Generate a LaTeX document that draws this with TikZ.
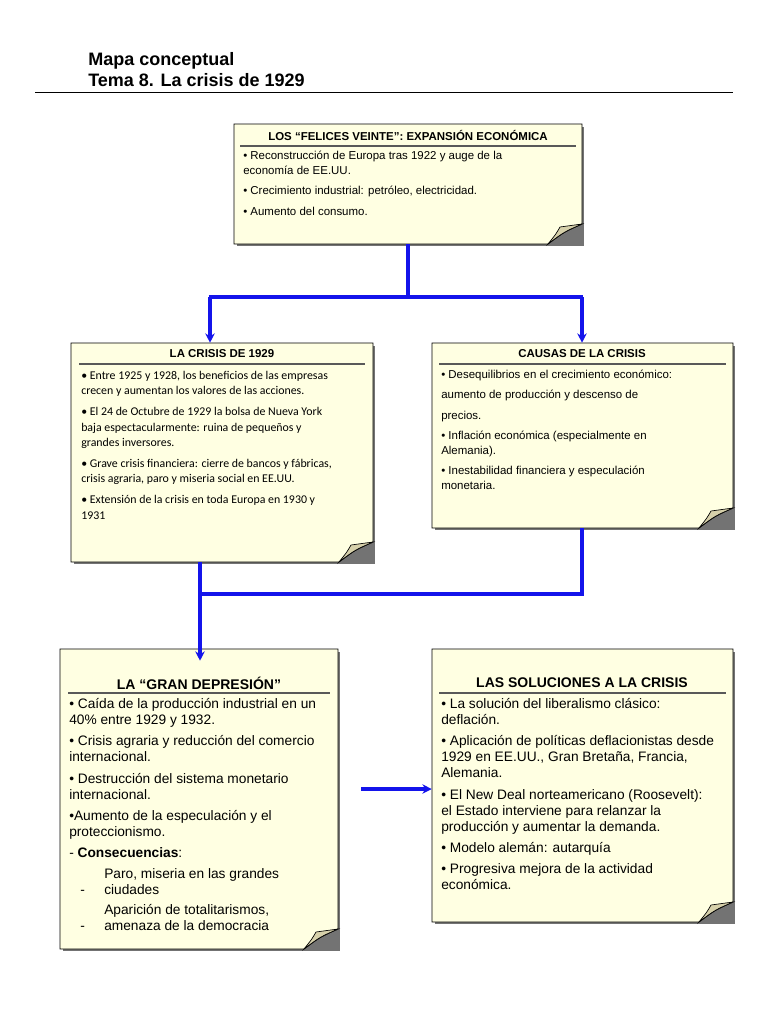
\documentclass[tikz,border=0pt]{standalone}
\usepackage{fontspec}
\setmainfont{Liberation Sans}
\newfontfamily\carlitofont{Carlito}
\usetikzlibrary{fit,arrows.meta}
\definecolor{paper}{RGB}{255,255,226}
\definecolor{fold}{RGB}{214,208,170}
\definecolor{conn}{RGB}{20,20,235}
\tikzset{
  conline/.style={draw=conn,line width=2.6pt},
  conarrow/.style={conline,-{Stealth[length=7pt,width=7pt]}},
  txt/.style={anchor=north west,inner sep=0pt,align=left},
  hdr/.style={inner sep=0pt,font=\bfseries},
}
\newcommand\paperbox[5]{%
  \fill[black!55] (#2+3,#3+3) rectangle (#4+2,#5+2);
  \draw[fill=paper,line width=0.7pt] (#2,#3) -- (#4,#3) -- (#4,#5-20) .. controls (#4-18,#5-12) .. (#4-34,#5) -- (#2,#5) -- cycle;
  \draw[fill=fold,line width=0.5pt] (#4-34,#5) .. controls (#4-26,#5-10) .. (#4-22,#5-17) -- (#4,#5-20) .. controls (#4-18,#5-12) .. (#4-34,#5) -- cycle;
  \node[fit={(#2,#3)(#4,#5)},inner sep=0pt] (#1) {};
}
\begin{document}
\begin{tikzpicture}[x=0.75pt,y=-0.75pt]
\useasboundingbox[fill=white] (0,0) rectangle (768,1024);
\node[txt,font=\fontsize{13.5}{16}\bfseries\selectfont] (title) at (88,52) {Mapa conceptual\\Tema 8. La crisis de 1929};
\draw[line width=0.6pt] (35,92) -- (733,92);

% boxes
\paperbox{felices}{234}{124}{582}{244}
\paperbox{crisis}{71}{343}{373}{562}
\paperbox{causas}{432}{343}{733}{528}
\paperbox{gran}{60}{649}{338}{949}
\paperbox{sol}{432}{649}{733}{922}

% top box
\node[hdr,font=\fontsize{8.6}{10}\bfseries\selectfont] (h1) at (408,135) {LOS “FELICES VEINTE”: EXPANSIÓN ECONÓMICA};
\draw[gray!70!black,line width=0.8pt] (240,146) -- (576,146);
\node[txt,font=\fontsize{8.6}{11.2}\selectfont] (t1) at (243,151) {%
• Reconstrucción de Europa tras 1922 y auge de la\\economía de EE.UU.\\[4pt]
• Crecimiento industrial: petróleo, electricidad.\\[4pt]
• Aumento del consumo.};

% crisis 1929
\node[hdr,font=\fontsize{8.6}{10}\bfseries\selectfont] (h2) at (222,354) {LA CRISIS DE 1929};
\draw[gray!70!black,line width=0.8pt] (79,364) -- (365,364);
\node[txt,font=\carlitofont\fontsize{8.9}{11.4}\selectfont] (t2) at (81,371) {%
• Entre 1925 y 1928, los beneficios de las empresas\\crecen y aumentan los valores de las acciones.\\[4.5pt]
• El 24 de Octubre de 1929 la bolsa de Nueva York\\baja espectacularmente: ruina de pequeños y\\grandes inversores.\\[4.5pt]
• Grave crisis financiera: cierre de bancos y fábricas,\\crisis agraria, paro y miseria social en EE.UU.\\[4.5pt]
• Extensión de la crisis en toda Europa en 1930 y\\1931};

% causas
\node[hdr,font=\fontsize{8.6}{10}\bfseries\selectfont] (h3) at (582,354) {CAUSAS DE LA CRISIS};
\draw[gray!70!black,line width=0.8pt] (439,364) -- (726,364);
\node[txt,font=\fontsize{8.6}{11.2}\selectfont] (t3) at (441,370) {%
• Desequilibrios en el crecimiento económico:\\[4pt]
aumento de producción y descenso de\\[4pt]
precios.\\[4pt]
• Inflación económica (especialmente en\\Alemania).\\[4pt]
• Inestabilidad financiera y especulación\\monetaria.};

% gran depresion
\node[hdr,font=\fontsize{10.5}{12}\bfseries\selectfont] (h4) at (199,683) {LA “GRAN DEPRESIÓN”};
\draw[gray!70!black,line width=0.8pt] (68,693) -- (330,693);
\node[txt,font=\fontsize{10.3}{12}\selectfont] (t4) at (69,698) {%
• Caída de la producción industrial en un\\40\% entre 1929 y 1932.\\[4pt]
• Crisis agraria y reducción del comercio\\internacional.\\[4pt]
• Destrucción del sistema monetario\\internacional.\\[4pt]
•Aumento de la especulación y el\\proteccionismo.\\[4pt]
- \textbf{Consecuencias}:};
\node[txt,font=\fontsize{10.3}{12}\selectfont] (c1) at (104,868) {Paro, miseria en las grandes\\ciudades};
\node[txt,font=\fontsize{10.3}{12}\selectfont] (c2) at (104,904) {Aparición de totalitarismos,\\amenaza de la democracia};
\node[anchor=base west,inner sep=0pt,font=\fontsize{10.3}{12}\selectfont] (d1) at ([xshift=-18pt]c1.base west) {-};
\node[anchor=base west,inner sep=0pt,font=\fontsize{10.3}{12}\selectfont] (d2) at ([xshift=-18pt]c2.base west) {-};

% soluciones
\node[hdr,font=\fontsize{10.5}{12}\bfseries\selectfont] (h5) at (582,683) {LAS SOLUCIONES A LA CRISIS};
\draw[gray!70!black,line width=0.8pt] (439,693) -- (726,693);
\node[txt,font=\fontsize{10.3}{12}\selectfont] (t5) at (441,698) {%
• La solución del liberalismo clásico:\\deflación.\\[4pt]
• Aplicación de políticas deflacionistas desde\\1929 en EE.UU., Gran Bretaña, Francia,\\Alemania.\\[4pt]
• El New Deal norteamericano (Roosevelt):\\el Estado interviene para relanzar la\\producción y aumentar la demanda.\\[4pt]
• Modelo alemán: autarquía\\[4pt]
• Progresiva mejora de la actividad\\económica.};

% connectors
\coordinate (j1) at (408,297);
\coordinate (jl) at (210,297);
\coordinate (jr) at (582,297);
\draw[conline] (felices.south) -- (j1);
\draw[conline] ([xshift=-1pt]jl) -- ([xshift=1pt]jr);
\draw[conarrow] (jl) -- (crisis.north -| jl);
\draw[conarrow] (jr) -- (causas.north -| jr);
\coordinate (j2) at (200,594);
\coordinate (j3) at (582,594);
\draw[conline] (crisis.south -| j2) -- (j2);
\draw[conline] (causas.south -| j3) -- (j3) -- ([xshift=-1pt]j2);
\draw[conarrow] (j2) -- ([yshift=-9pt]gran.north -| j2);
\coordinate (a1) at (361,789);
\draw[conarrow] (a1) -- (sol.west |- a1);
\end{tikzpicture}
\end{document}
